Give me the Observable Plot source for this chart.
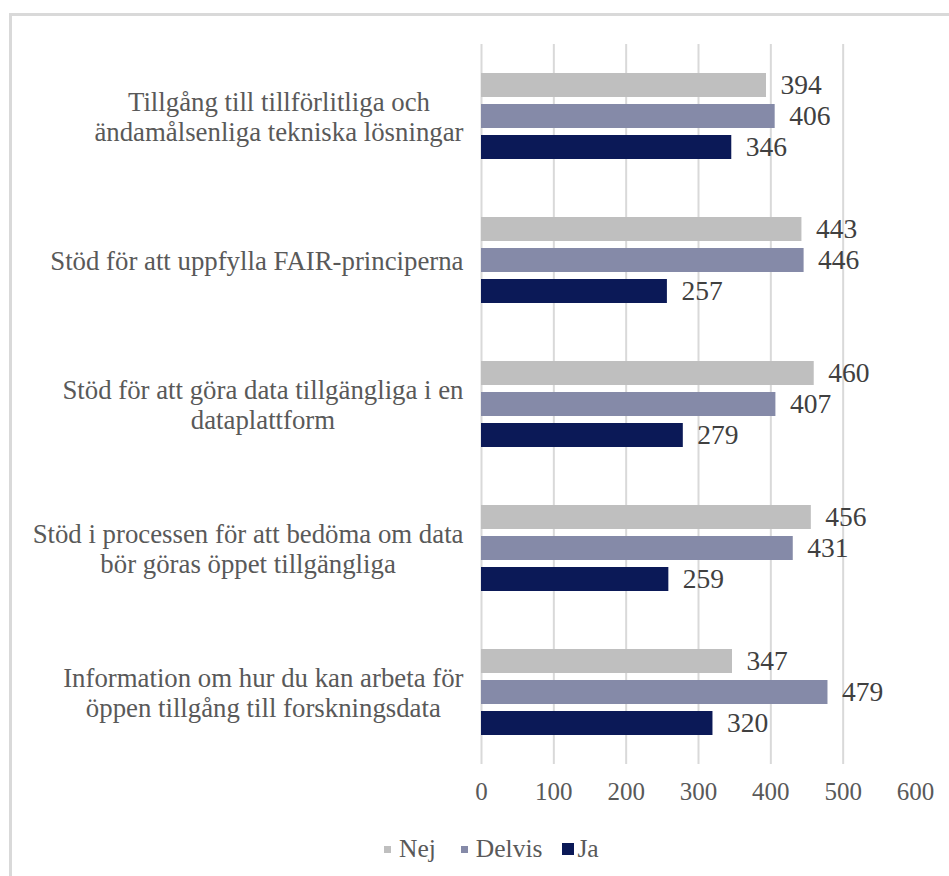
<!DOCTYPE html>
<html>
<head>
<meta charset="utf-8">
<script src="https://cdn.jsdelivr.net/npm/d3@7"></script>
<script src="https://cdn.jsdelivr.net/npm/@observablehq/plot@0.6"></script>
<style>
  html, body { margin: 0; padding: 0; background: #ffffff; overflow: hidden; }
  body { width: 949px; height: 876px; position: relative; font-family: "Liberation Serif", "Times New Roman", Times, "DejaVu Serif", serif; }
  #frame { position: absolute; left: 9px; top: 13px; width: 1200px; height: 1200px; border-top: 3px solid #d9d9d9; border-left: 3px solid #d9d9d9; box-sizing: border-box; }
  #chart { position: absolute; left: 0; top: 0; }
  #chart svg, #chart svg text { font-family: "Liberation Serif", "Times New Roman", Times, "DejaVu Serif", serif !important; }
  #legend { position: absolute; left: 384px; top: 834px; display: flex; align-items: center; font-size: 25.5px; color: #595959; white-space: nowrap; }
  #legend .item { display: flex; align-items: center; }
  #legend .sw { display: inline-block; }
</style>
</head>
<body>
<div id="frame"></div>
<div id="chart"></div>
<div id="legend"></div>
<script>
const categories = [
  "Tillgång till tillförlitliga och\nändamålsenliga tekniska lösningar",
  "Stöd för att uppfylla FAIR-principerna",
  "Stöd för att göra data tillgängliga i en\ndataplattform",
  "Stöd i processen för att bedöma om data\nbör göras öppet tillgängliga",
  "Information om hur du kan arbeta för\nöppen tillgång till forskningsdata"
];
const series = ["Nej", "Delvis", "Ja"];
const nej    = [394, 443, 460, 456, 347];
const delvis = [406, 446, 407, 431, 479];
const ja     = [346, 257, 279, 259, 320];
const xTicks = [0, 100, 200, 300, 400, 500, 600];
const gridTicks = [0, 100, 200, 300, 400, 500];
const colors = ["#bfbfbf", "#858aa8", "#0b1957"];

const valuesBySeries = {Nej: nej, Delvis: delvis, Ja: ja};
const table = [];
categories.forEach((c, i) => series.forEach(s => table.push({category: c, series: s, value: valuesBySeries[s][i]})));

// grid segments that show through the Delvis bars
const overlay = [];
categories.forEach((c, i) => gridTicks.forEach(t => { if (t > 0 && t < delvis[i]) overlay.push({category: c, tick: t}); }));

const FONT = '"Liberation Serif", "Times New Roman", Times, "DejaVu Serif", serif';
const LABEL_SIZE = 26.8;
const marginLeft = 481;
const labelRight = 463;

const canvas = document.createElement("canvas");
const ctx = canvas.getContext("2d");
ctx.font = `${LABEL_SIZE}px "Liberation Serif", "Times New Roman", serif`;

const labelMarks = categories.map(c => {
  const w = d3.max(c.split("\n"), l => ctx.measureText(l).width) || 300;
  const cx = labelRight - w / 2;
  return Plot.text([c], {
    fy: d => d, text: d => d, frameAnchor: "left", dx: cx - marginLeft,
    textAnchor: "middle", lineAnchor: "middle", lineHeight: 1.12,
    fontSize: LABEL_SIZE, fill: "#595959"
  });
});

const chart = Plot.plot({
  width: 949,
  height: 820,
  marginLeft,
  marginRight: 34,
  marginTop: 44,
  marginBottom: 56,
  style: {fontFamily: FONT, background: "transparent"},
  x: {domain: [0, 600], axis: null},
  y: {domain: series, paddingInner: 0.23, paddingOuter: 0.935, axis: null},
  fy: {domain: categories, padding: 0, axis: null},
  color: {domain: series, range: colors},
  marks: [
    Plot.ruleX(gridTicks, {x: d => d, stroke: "#d9d9d9", strokeWidth: 2}),
    Plot.barX(table, {fy: "category", y: "series", x: "value", fill: "series"}),
    Plot.ruleX(overlay, {fy: "category", y: () => "Delvis", x: "tick", stroke: "#5a6187", strokeOpacity: 0.55, strokeWidth: 2}),
    Plot.text(table, {fy: "category", y: "series", x: "value", text: d => String(d.value), dx: 14, textAnchor: "start", fontSize: 27.5, fill: "#404040"}),
    ...labelMarks,
    Plot.axisX(xTicks, {tickSize: 0, tickPadding: 18, fontSize: 25, fill: "#595959", label: null})
  ]
});
document.getElementById("chart").appendChild(chart);

const legend = document.getElementById("legend");
const sw = [7, 7, 12];
const gapAfterSw = [8, 8, 3];
const gapAfterText = [25, 20, 0];
series.forEach((s, i) => {
  const item = document.createElement("div");
  item.className = "item";
  item.style.marginRight = gapAfterText[i] + "px";
  const box = document.createElement("span");
  box.className = "sw";
  box.style.width = sw[i] + "px";
  box.style.height = sw[i] + "px";
  box.style.background = colors[i];
  box.style.marginRight = gapAfterSw[i] + "px";
  const t = document.createElement("span");
  t.textContent = s;
  item.appendChild(box);
  item.appendChild(t);
  legend.appendChild(item);
});
</script>
</body>
</html>
